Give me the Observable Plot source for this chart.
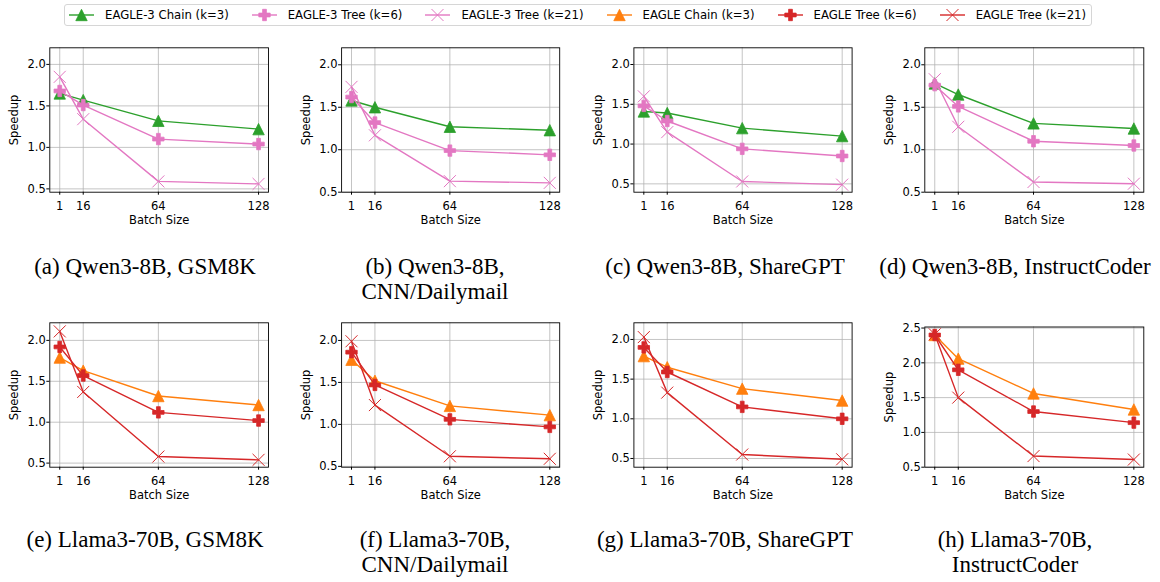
<!DOCTYPE html>
<html>
<head>
<meta charset="utf-8">
<script src="https://cdn.jsdelivr.net/npm/d3@7"></script>
<script src="https://cdn.jsdelivr.net/npm/@observablehq/plot@0.6"></script>
<style>
  body { margin: 0; background: #fff; }
  #root { position: relative; width: 1160px; height: 582px; overflow: hidden; font-family: "DejaVu Sans", sans-serif; background: #fff; }
  .panel { position: absolute; }
  .cap { position: absolute; width: 290px; text-align: center; font-family: "Liberation Serif", "Times New Roman", serif; font-size: 23px; line-height: 24.5px; color: #000; white-space: nowrap; }
  #legend { position: absolute; left: 64px; top: 4px; height: 20px; border: 1px solid #d6d6d6; border-radius: 3px; display: flex; align-items: center; padding: 0 0 0 4px; font-size: 11.7px; color: #000; white-space: nowrap; }
  .item { display: flex; align-items: center; margin-right: 23px; }
  .item:last-child { margin-right: 5px; }
  .item svg { margin-right: 11px; }
</style>
</head>
<body>
<div id="root"><div id="legend"></div></div>
<script>
// ---------------- data ----------------
const batchSizes = [1, 16, 64, 128];
const seriesNames = ["EAGLE-3 Chain (k=3)", "EAGLE-3 Tree (k=6)", "EAGLE-3 Tree (k=21)", "EAGLE Chain (k=3)", "EAGLE Tree (k=6)", "EAGLE Tree (k=21)"];
const seriesColors = ["#2ca02c", "#e377c2", "#e377c2", "#ff7f0e", "#d62728", "#d62728"];
const seriesMarkers = ["tri", "plus", "x", "tri", "plus", "x"];
const yTickValues = [0.5, 1.0, 1.5, 2.0, 2.5];
const xLabel = "Batch Size";
const yLabel = "Speedup";

// each panel: [chain k=3, tree k=6, tree k=21] speedups at batch 1, 16, 64, 128
const qwenGSM8K          = [[1.65, 1.57, 1.32, 1.22], [1.68, 1.51, 1.10, 1.04], [1.85, 1.34, 0.59, 0.56]];
const qwenCNN            = [[1.58, 1.50, 1.27, 1.23], [1.62, 1.32, 0.99, 0.94], [1.74, 1.17, 0.63, 0.61]];
const qwenShareGPT       = [[1.41, 1.39, 1.20, 1.10], [1.48, 1.29, 0.94, 0.85], [1.60, 1.15, 0.53, 0.49]];
const qwenInstructCoder  = [[1.78, 1.65, 1.31, 1.25], [1.76, 1.51, 1.10, 1.05], [1.83, 1.27, 0.62, 0.60]];
const llamaGSM8K         = [[1.79, 1.63, 1.32, 1.21], [1.92, 1.57, 1.12, 1.02], [2.11, 1.37, 0.58, 0.54]];
const llamaCNN           = [[1.77, 1.52, 1.22, 1.11], [1.86, 1.47, 1.06, 0.97], [1.99, 1.23, 0.62, 0.59]];
const llamaShareGPT      = [[1.79, 1.65, 1.38, 1.23], [1.90, 1.59, 1.15, 1.00], [2.03, 1.33, 0.55, 0.49]];
const llamaInstructCoder = [[2.40, 2.06, 1.56, 1.33], [2.40, 1.90, 1.30, 1.14], [2.41, 1.50, 0.66, 0.61]];

const panelCaptions = [
  ["(a) Qwen3-8B, GSM8K"], ["(b) Qwen3-8B,", "CNN/Dailymail"], ["(c) Qwen3-8B, ShareGPT"], ["(d) Qwen3-8B, InstructCoder"],
  ["(e) Llama3-70B, GSM8K"], ["(f) Llama3-70B,", "CNN/Dailymail"], ["(g) Llama3-70B, ShareGPT"], ["(h) Llama3-70B,", "InstructCoder"]
];
const panelValues = [qwenGSM8K, qwenCNN, qwenShareGPT, qwenInstructCoder, llamaGSM8K, llamaCNN, llamaShareGPT, llamaInstructCoder];
const panelYDomains = [[0.46, 2.2], [0.5, 2.2], [0.395, 2.21], [0.5, 2.2], [0.45, 2.215], [0.49, 2.21], [0.39, 2.21], [0.5, 2.515]];

// ---------------- markers (matplotlib-like) ----------------
const symbols = {
  tri: { draw(ctx, size) { const r = Math.sqrt(size / Math.PI); ctx.moveTo(0, -r); ctx.lineTo(r, r); ctx.lineTo(-r, r); ctx.closePath(); } },
  plus: { draw(ctx, size) { const r = Math.sqrt(size / Math.PI), a = r / 3;
    const p = [[-a,-r],[-a,-a],[-r,-a],[-r,a],[-a,a],[-a,r],[a,r],[a,a],[r,a],[r,-a],[a,-a],[a,-r]];
    ctx.moveTo(p[0][0], p[0][1]); for (let i = 1; i < p.length; i++) ctx.lineTo(p[i][0], p[i][1]); ctx.closePath(); } },
  x: { draw(ctx, size) { const r = Math.sqrt(size / Math.PI); ctx.moveTo(-r, -r); ctx.lineTo(r, r); ctx.moveTo(-r, r); ctx.lineTo(r, -r); } }
};
const markerR = { tri: 5.7, plus: 5.7, x: 6 };

function markerStyle(m, color) {
  return m === "x" ? { fill: "none", stroke: color, strokeWidth: 1 } : { fill: color, stroke: color, strokeWidth: 0.8 };
}

// ---------------- legend ----------------
const legend = document.getElementById("legend");
seriesNames.forEach((name, i) => {
  const m = seriesMarkers[i], c = seriesColors[i];
  const p = d3.path(); symbols[m].draw(p, markerR[m] * markerR[m] * Math.PI);
  const st = markerStyle(m, c);
  const item = document.createElement("div"); item.className = "item";
  item.innerHTML = `<svg width="25" height="14" viewBox="0 0 25 14"><line x1="0" x2="25" y1="7" y2="7" stroke="${c}" stroke-width="1.4"/>` +
    `<path transform="translate(12.5,7)" d="${p.toString()}" fill="${st.fill}" stroke="${st.stroke}" stroke-width="${st.strokeWidth}"/></svg><span>${name}</span>`;
  legend.appendChild(item);
});

// ---------------- panels ----------------
const root = document.getElementById("root");
const colFrames = [[49.3, 268], [51.1, 269.2], [53.4, 271.6], [54.3, 273.3]];
const rowTops = [40, 315];
const capTops = [255, 528];
const svgH = 190, frameBottom = 151.7;

panelValues.forEach((vals, k) => {
  const row = Math.floor(k / 4), col = k % 4;
  const sIdx = row === 0 ? [0, 1, 2] : [3, 4, 5];
  const [fl, fr] = colFrames[col];
  const marginTop = (k === 7) ? 11.5 : 7.3;
  const yDom = panelYDomains[k];
  const yt = yTickValues.filter(v => v >= yDom[0] - 1e-9 && v <= yDom[1] + 1e-9);
  const marks = [
    Plot.gridX(batchSizes, { stroke: "#b0b0b0", strokeOpacity: 0.75, strokeWidth: 1 }),
    Plot.gridY(yt, { stroke: "#b0b0b0", strokeOpacity: 0.75, strokeWidth: 1 })
  ];
  vals.forEach((series, j) => {
    const si = sIdx[j];
    const rows = series.map((v, i) => ({ batch: batchSizes[i], value: v }));
    const m = seriesMarkers[si], c = seriesColors[si];
    marks.push(Plot.line(rows, { x: "batch", y: "value", stroke: c, strokeWidth: 1.4 }));
    marks.push(Plot.dot(rows, { x: "batch", y: "value", symbol: symbols[m], r: markerR[m], ...markerStyle(m, c) }));
  });
  marks.push(
    Plot.frame({ stroke: "#000", strokeWidth: 0.9 }),
    Plot.axisX({ ticks: batchSizes, tickSize: 3, tickPadding: 6.5, label: null, fontSize: 11.5 }),
    Plot.axisY({ ticks: yt, tickFormat: d3.format(".1f"), tickSize: 3, tickPadding: 1, label: null, fontSize: 11.5 }),
    Plot.text([xLabel], { text: d => d, frameAnchor: "bottom", dy: 28.5, textAnchor: "middle", lineAnchor: "middle", fontSize: 11.5 }),
    Plot.text([yLabel], { text: d => d, frameAnchor: "left", dx: -35.5, rotate: -90, textAnchor: "middle", lineAnchor: "middle", fontSize: 11.5 })
  );
  const chart = Plot.plot({
    width: 290, height: svgH,
    marginLeft: fl, marginRight: 290 - fr, marginTop: marginTop, marginBottom: svgH - frameBottom,
    x: { type: "linear", domain: [-5.35, 134.35] },
    y: { type: "linear", domain: yDom },
    style: { fontFamily: "DejaVu Sans", fontSize: "11.5px", color: "#000", background: "transparent", overflow: "visible" },
    marks
  });
  chart.classList.add("panel");
  chart.style.left = (col * 290) + "px";
  chart.style.top = rowTops[row] + "px";
  root.appendChild(chart);

  const cap = document.createElement("div");
  cap.className = "cap";
  cap.style.left = (col * 290) + "px";
  cap.style.top = capTops[row] + "px";
  cap.innerHTML = panelCaptions[k].map(s => `<div>${s}</div>`).join("");
  root.appendChild(cap);
});
</script>
</body>
</html>
